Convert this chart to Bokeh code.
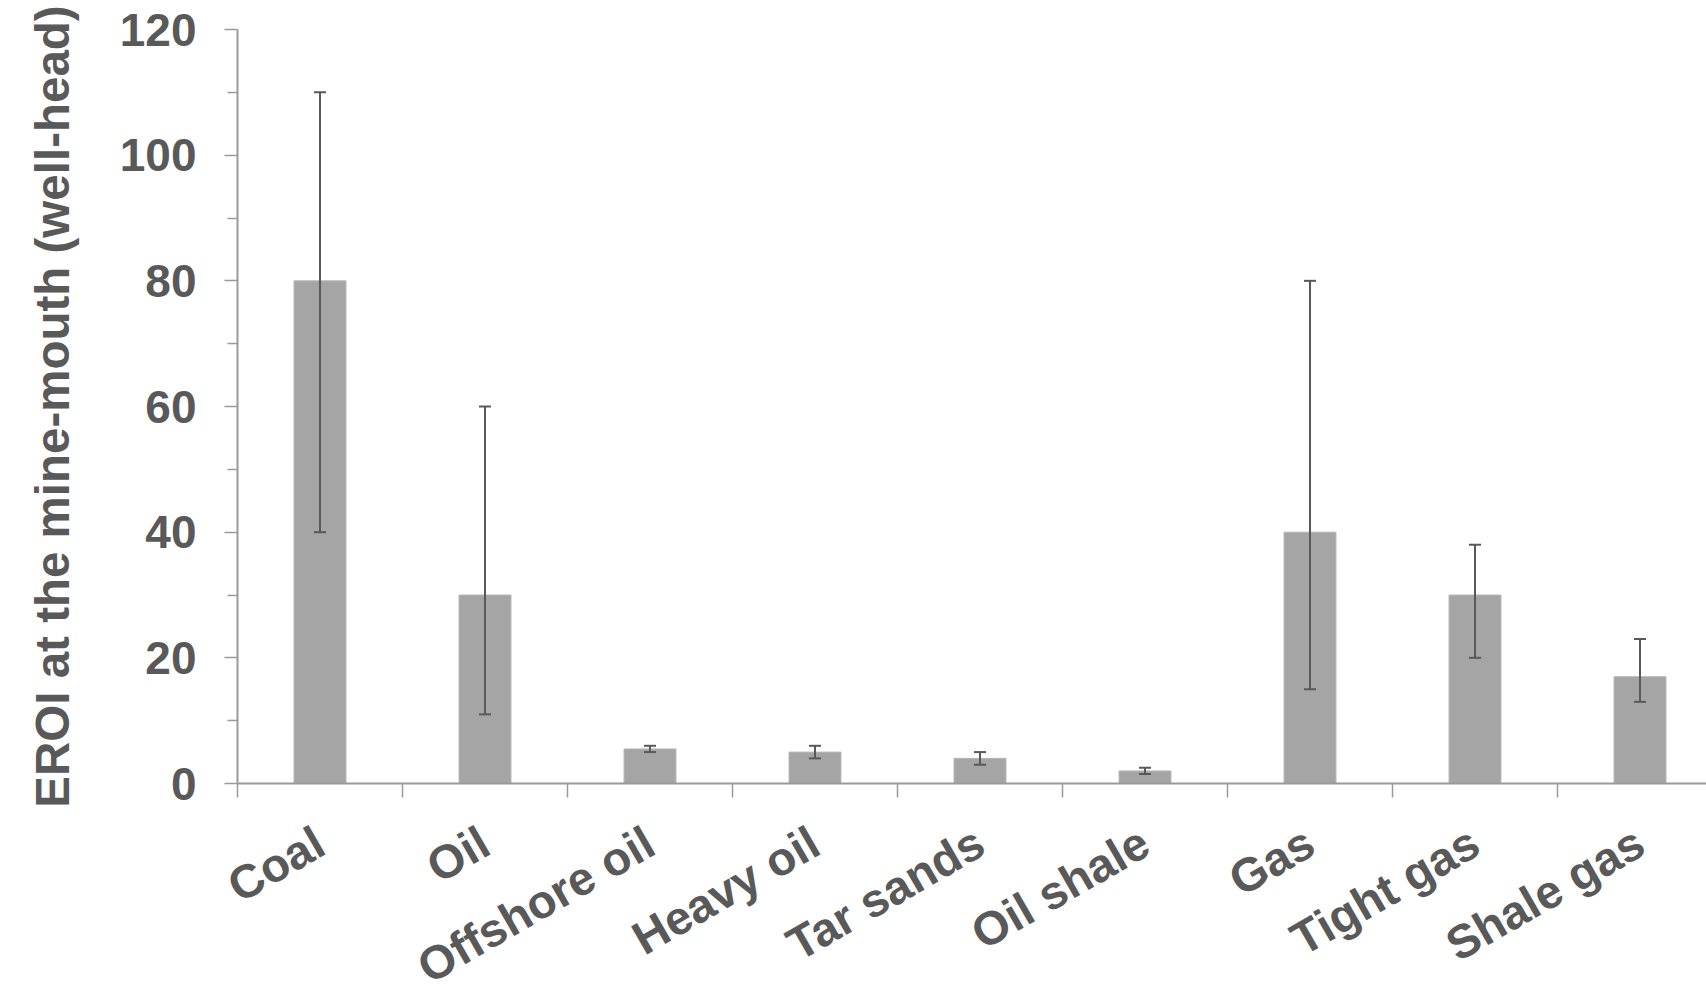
from bokeh.plotting import figure
from bokeh.layouts import column
from bokeh.models import Range1d, FixedTicker, ColumnDataSource, Whisker, TeeHead
from bokeh.core.properties import value
from bokeh.embed import file_html
from bokeh.resources import INLINE

categories = ["Coal", "Oil", "Offshore oil", "Heavy oil", "Tar sands",
              "Oil shale", "Gas", "Tight gas", "Shale gas"]
eroi = [80, 30, 5.5, 5, 4, 2, 40, 30, 17]
eroi_low = [40, 11, 5, 4, 3, 1.5, 15, 20, 13]
eroi_high = [110, 60, 6, 6, 5, 2.5, 80, 38, 23]
y_ticks = [0, 20, 40, 60, 80, 100, 120]
y_minor = [10, 30, 50, 70, 90, 110]

centers = [i + 0.5 for i in range(len(categories))]
bounds = list(range(len(categories)))

# layout (pixels)
W = 1706
LEFT, TOP, FRAME_H, BOTTOM = 237, 29, 754, 26
H_MAIN = TOP + FRAME_H + BOTTOM
H_LAB = 986 - H_MAIN
X_END = 8.903
LABEL_ANCHOR_PX = 29          # below top of the label strip

FONT = "Liberation Sans"
TXT = "#595959"
AX = "#9a9a9a"

src = ColumnDataSource(dict(x=centers, top=eroi, lo=eroi_low, hi=eroi_high))

p = figure(width=W, height=H_MAIN, output_backend="svg", toolbar_location=None,
           x_range=Range1d(0, X_END), y_range=Range1d(0, 120),
           min_border_left=LEFT, min_border_right=0, min_border_top=TOP,
           min_border_bottom=BOTTOM)
p.frame_align = False
p.outline_line_color = None
p.xgrid.visible = False
p.ygrid.visible = False

p.vbar(x="x", top="top", width=0.315, bottom=0, source=src,
       fill_color="#a5a5a5", line_color="#b8b8b8", line_width=1)

w = Whisker(source=src, base="x", lower="lo", upper="hi", level="overlay",
            line_color="#595959", line_width=2,
            upper_head=TeeHead(size=12, line_color="#595959", line_width=2),
            lower_head=TeeHead(size=12, line_color="#595959", line_width=2))
p.add_layout(w)

xa = p.xaxis[0]
xa.ticker = FixedTicker(ticks=centers, minor_ticks=bounds)
xa.major_label_overrides = {c: "" for c in centers}
xa.major_label_text_font_size = "0px"
xa.major_label_standoff = 0
xa.major_tick_line_color = None
xa.major_tick_out = 14
xa.major_tick_in = 0
xa.minor_tick_out = 14
xa.minor_tick_in = 0
xa.minor_tick_line_color = AX
xa.minor_tick_line_width = 1.5
xa.axis_line_color = AX
xa.axis_line_width = 2

ya = p.yaxis[0]
ya.ticker = FixedTicker(ticks=y_ticks, minor_ticks=y_minor)
ya.major_tick_out = 13
ya.major_tick_in = 0
ya.minor_tick_out = 10
ya.minor_tick_in = 0
ya.major_tick_line_color = AX
ya.minor_tick_line_color = AX
ya.major_tick_line_width = 1.5
ya.minor_tick_line_width = 1.5
ya.axis_line_color = AX
ya.axis_line_width = 2
ya.major_label_standoff = 28
ya.major_label_text_font = FONT
ya.major_label_text_font_style = "bold"
ya.major_label_text_font_size = "46px"
ya.major_label_text_color = TXT
ya.axis_label = "EROI at the mine-mouth (well-head)"
ya.axis_label_text_font = FONT
ya.axis_label_text_font_style = "bold"
ya.axis_label_text_font_size = "47.5px"
ya.axis_label_text_color = TXT
ya.axis_label_standoff = 38

# category labels strip, same pixel scale as the main frame
x2_start = -LEFT * X_END / (W - LEFT)
p2 = figure(width=W, height=H_LAB, output_backend="svg", toolbar_location=None,
            x_range=Range1d(x2_start, X_END), y_range=Range1d(H_LAB, 0),
            x_axis_location=None, y_axis_location=None, min_border=0)
p2.frame_align = False
p2.outline_line_color = None
p2.grid.visible = False
lab_src = ColumnDataSource(dict(x=centers, y=[LABEL_ANCHOR_PX] * len(categories),
                                name=categories))
p2.text(x="x", y="y", text="name", source=lab_src, angle=0.5236,
        text_align="right", text_baseline="middle",
        text_font=value(FONT), text_font_style="bold", text_font_size="47px",
        text_color=TXT)

layout = column(p, p2, spacing=0)
open("out.html", "w").write(file_html(layout, INLINE))
